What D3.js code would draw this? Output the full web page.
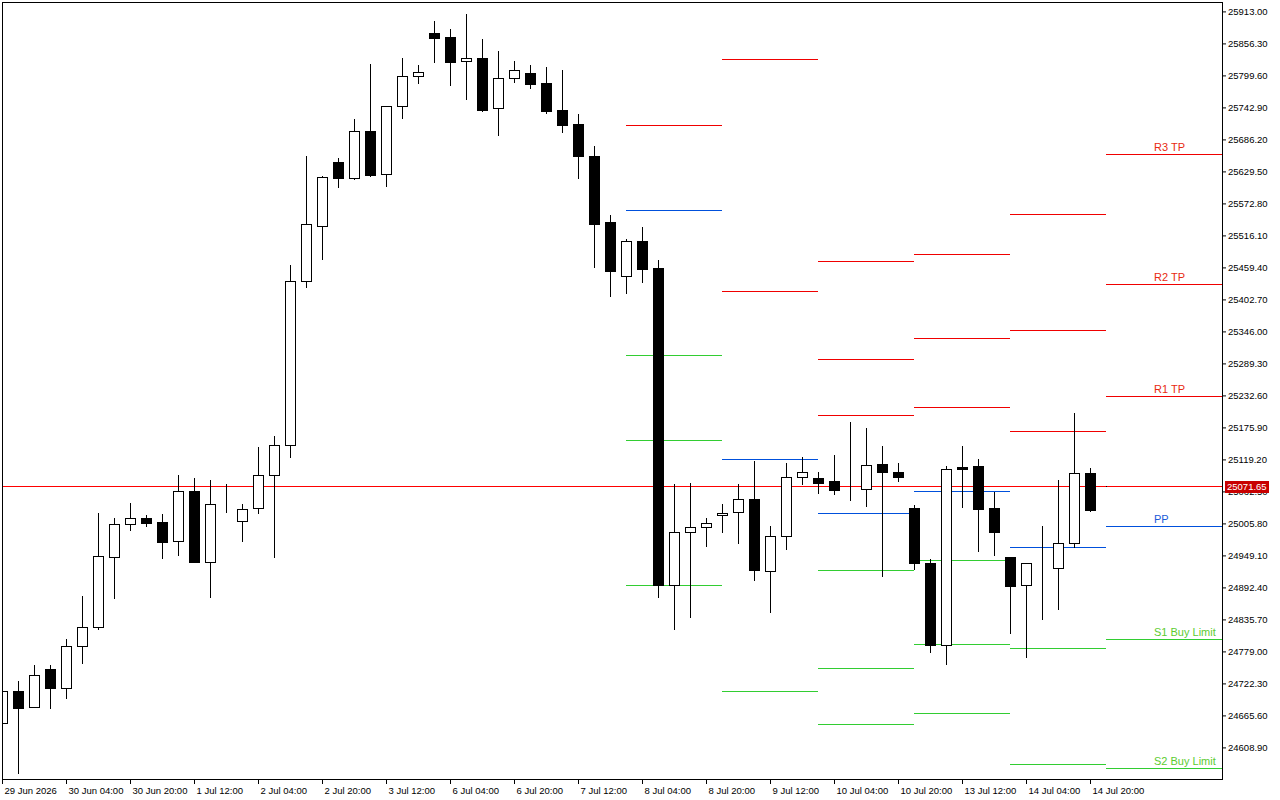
<!DOCTYPE html>
<html>
<head>
<meta charset="utf-8">
<script src="https://cdn.jsdelivr.net/npm/d3@7"></script>
<style>
  body { margin: 0; background: #fff; }
  svg { display: block; font-family: "Liberation Sans", Arial, sans-serif; }
</style>
</head>
<body>
<svg id="chart" width="1280" height="800"></svg>
<script>
// H4 bars, 29 Jun 2026 12:00 -> 15 Jul 2026 00:00
const opens = [24652.6, 24709.3, 24681.0, 24748.3, 24714.7, 24789.1, 24822.7, 24946.8, 25005.2, 25015.9,
  25008.8, 24975.1, 25063.7, 24937.9, 25040.7, 25010.6, 25033.6, 25092.1, 25145.2, 25435.8,
  25533.3, 25646.7, 25618.3, 25701.6, 25625.4, 25745.9, 25799.0, 25875.3, 25868.2, 25825.6,
  25830.9, 25742.3, 25795.5, 25804.4, 25786.7, 25738.8, 25714.0, 25657.3, 25540.3, 25444.7,
  25506.7, 25458.8, 24897.2, 24991.1, 24999.9, 25021.2, 25026.5, 25049.5, 24922.0, 24984.0,
  25088.5, 25086.7, 25081.4, 25065.5, 25067.3, 25111.6, 25097.4, 25033.6, 24936.1, 24790.8,
  25106.2, 25108.0, 25033.6, 24946.8, 24897.2, 24927.3, 24927.3, 24971.6, 25095.6, 25071.65];
const highs = [24712.9, 24727.1, 24755.4, 24755.4, 24801.5, 24877.7, 25024.7, 25015.9, 25042.5, 25021.2,
  25023.0, 25092.1, 25086.7, 25083.2, 25076.1, 25040.7, 25141.7, 25161.2, 25464.2, 25657.3,
  25621.9, 25653.7, 25722.9, 25820.3, 25745.9, 25830.9, 25818.6, 25896.5, 25882.3, 25908.9,
  25864.6, 25843.4, 25825.6, 25818.6, 25815.0, 25809.7, 25731.7, 25675.0, 25552.8, 25510.2,
  25531.5, 25473.0, 25076.1, 25077.9, 25015.9, 25040.7, 25076.1, 25116.9, 25001.7, 25113.3,
  25124.0, 25097.4, 25127.5, 25186.0, 25175.3, 25143.4, 25113.3, 25038.9, 24943.2, 25108.0,
  25143.4, 25120.4, 25061.9, 24946.8, 24936.1, 25001.7, 25083.2, 25201.9, 25104.5, 25071.65];
const lows = [24650.9, 24564.0, 24681.0, 24679.2, 24696.9, 24759.0, 24819.2, 24874.1, 24994.6, 25001.7,
  24945.0, 24950.3, 24937.9, 24875.9, 25026.5, 24975.1, 25024.7, 24946.8, 25124.0, 25425.2,
  25474.8, 25602.4, 25616.5, 25621.9, 25604.1, 25724.6, 25786.7, 25823.9, 25783.1, 25758.3,
  25737.0, 25694.5, 25788.4, 25777.8, 25733.5, 25699.8, 25618.3, 25460.6, 25409.2, 25414.5,
  25434.0, 24875.9, 24819.2, 24840.5, 24966.3, 24991.1, 24971.6, 24906.0, 24849.3, 24960.9,
  25076.1, 25060.2, 25058.4, 25047.8, 25037.1, 24913.1, 25081.4, 24925.5, 24778.4, 24757.2,
  25035.4, 24957.4, 24950.3, 24812.1, 24769.6, 24836.9, 24854.6, 24964.5, 25028.3, 25071.65];
const closes = [24709.3, 24679.2, 24737.7, 24714.7, 24789.1, 24822.7, 24948.5, 25005.2, 25015.9, 25007.0,
  24973.3, 25063.7, 24937.9, 25040.7, 25040.7, 25031.8, 25092.1, 25145.2, 25435.8, 25536.8,
  25620.1, 25618.3, 25701.6, 25623.6, 25745.9, 25799.0, 25806.1, 25866.4, 25823.9, 25830.9,
  25738.8, 25795.5, 25809.7, 25784.9, 25737.0, 25712.2, 25657.3, 25536.8, 25453.5, 25506.7,
  25457.1, 24897.2, 24991.1, 24999.9, 25007.0, 25024.7, 25049.5, 24923.7, 24984.0, 25088.5,
  25097.4, 25077.9, 25065.5, 25065.5, 25109.8, 25097.4, 25088.5, 24936.1, 24790.8, 25102.7,
  25102.7, 25031.8, 24991.1, 24895.4, 24936.1, 24927.3, 24971.6, 25095.6, 25030.0, 25071.65];

// time axis labels, one every 4 bars
const labelBars = [0, 4, 8, 12, 16, 20, 24, 28, 32, 36, 40, 44, 48, 52, 56, 60, 64, 68];
const timeLabels = ["29 Jun 2026", "30 Jun 04:00", "30 Jun 20:00", "1 Jul 12:00", "2 Jul 04:00",
  "2 Jul 20:00", "3 Jul 12:00", "6 Jul 04:00", "6 Jul 20:00", "7 Jul 12:00", "8 Jul 04:00",
  "8 Jul 20:00", "9 Jul 12:00", "10 Jul 04:00", "10 Jul 20:00", "13 Jul 12:00", "14 Jul 04:00",
  "14 Jul 20:00"];

const priceTicks = [25913.00, 25856.30, 25799.60, 25742.90, 25686.20, 25629.50, 25572.80, 25516.10,
  25459.40, 25402.70, 25346.00, 25289.30, 25232.60, 25175.90, 25119.20, 25062.50, 25005.80,
  24949.10, 24892.40, 24835.70, 24779.00, 24722.30, 24665.60, 24608.90];

const bid = 25071.65;

// daily pivots: 8, 9, 10, 13, 14, 15 Jul (first bar of each day)
const dayStart = [39, 45, 51, 57, 63, 69];
const r3 = [26119.7, 26126.9, 25471.3, 25483.7, 25554.5, 25660.8];
const r2 = [25969.1, 25829.2, 25297.6, 25334.8, 25349.0, 25430.5];
const r1 = [25712.2, 25418.1, 25198.4, 25212.6, 25170.0, 25232.0];
const pp = [25561.6, 25120.4, 25024.7, 25063.7, 24964.5, 25001.7];
const s1 = [25304.7, 24709.3, 24923.7, 24941.5, 24785.5, 24801.5];
const s2 = [25154.1, 24411.6, 24750.1, 24792.6, 24580.0, 24572.9];
const s3 = [24897.2, 24000.5, 24650.9, 24670.4, 24401.0, 24371.0];
const levelNames = ["R3 TP", "R2 TP", "R1 TP", "PP", "S1 Buy Limit", "S2 Buy Limit", ""];
const labelBar = 72;

const RED = "#f00000", BLUE = "#0050dc", GREEN = "#32cd32";
const levels = [
  { vals: r3, color: RED, text: "#e82a10" },
  { vals: r2, color: RED, text: "#e82a10" },
  { vals: r1, color: RED, text: "#e82a10" },
  { vals: pp, color: BLUE, text: "#1a5ad8" },
  { vals: s1, color: GREEN, text: "#5ccc30" },
  { vals: s2, color: GREEN, text: "#5ccc30" },
  { vals: s3, color: GREEN, text: "#5ccc30" }
];

const plotL = 2, plotT = 2, plotR = 1222, plotB = 779;

const svg = d3.select("#chart");

const x = d3.scaleLinear().domain([0, 69]).range([2, 1106]);
const y = d3.scaleLinear().domain([24608.9, 25913]).range([747.4, 11.4]);
const py = v => Math.round(y(v));

svg.append("defs").append("clipPath").attr("id", "plot")
  .append("rect")
  .attr("x", plotL + 1).attr("y", plotT + 1)
  .attr("width", plotR - plotL - 1).attr("height", plotB - plotT - 1);

const plot = svg.append("g").attr("clip-path", "url(#plot)");

// pivot segments
levels.forEach((lv, li) => {
  lv.vals.forEach((v, d) => {
    const x1 = x(dayStart[d]);
    const x2 = d + 1 < dayStart.length ? x(dayStart[d + 1]) : plotR;
    plot.append("line")
      .attr("x1", x1).attr("x2", x2)
      .attr("y1", py(v) + 0.5).attr("y2", py(v) + 0.5)
      .attr("stroke", lv.color).attr("stroke-width", 1);
  });
  const last = lv.vals.length - 1;
  if (levelNames[li]) {
    plot.append("text")
      .attr("x", x(labelBar)).attr("y", py(lv.vals[last]) - 3)
      .attr("fill", lv.text)
      .attr("font-size", "11px")
      .text(levelNames[li]);
  }
});

// bid line
plot.append("line")
  .attr("x1", plotL).attr("x2", plotR)
  .attr("y1", py(bid) + 0.5).attr("y2", py(bid) + 0.5)
  .attr("stroke", "#ff0000").attr("stroke-width", 1);

// candles
const bars = d3.range(opens.length);
const candle = plot.selectAll("g.candle").data(bars).enter().append("g");

candle.append("line")
  .attr("x1", i => x(i) + 0.5).attr("x2", i => x(i) + 0.5)
  .attr("y1", i => py(highs[i])).attr("y2", i => py(lows[i]) + 1)
  .attr("stroke", "#000").attr("stroke-width", 1);

candle.append("rect")
  .attr("x", i => x(i) - 4.5)
  .attr("y", i => py(Math.max(opens[i], closes[i])) + 0.5)
  .attr("width", 10)
  .attr("height", i => py(Math.min(opens[i], closes[i])) - py(Math.max(opens[i], closes[i])))
  .attr("fill", i => closes[i] >= opens[i] ? "#fff" : "#000")
  .attr("stroke", "#000").attr("stroke-width", 1);

// frame
svg.append("rect")
  .attr("x", plotL + 0.5).attr("y", plotT + 0.5)
  .attr("width", plotR - plotL).attr("height", plotB - plotT)
  .attr("fill", "none").attr("stroke", "#000");

// price axis
const yAxis = d3.axisRight(y).tickValues(priceTicks)
  .tickFormat(d3.format(".2f")).tickSize(4).tickPadding(2);
const ya = svg.append("g").attr("transform", `translate(${plotR},0)`).call(yAxis);
ya.select(".domain").remove();
ya.selectAll("line").attr("stroke", "#000");
ya.selectAll("text").attr("font-size", "9.5px").attr("fill", "#000")
  .attr("font-family", "Liberation Sans, Arial, sans-serif");

// time axis
const xAxis = d3.axisBottom(x).tickValues(labelBars)
  .tickFormat((d, k) => timeLabels[k]).tickSize(5).tickPadding(3);
const xa = svg.append("g").attr("transform", `translate(0,${plotB})`).call(xAxis);
xa.select(".domain").remove();
xa.selectAll("line").attr("stroke", "#000");
xa.selectAll("text").attr("text-anchor", "start").attr("x", 2)
  .attr("font-size", "9.5px").attr("fill", "#000")
  .attr("font-family", "Liberation Sans, Arial, sans-serif");

// bid label
svg.append("rect")
  .attr("x", 1225).attr("y", py(bid) - 5)
  .attr("width", 44).attr("height", 12)
  .attr("fill", "#c80000");
svg.append("text")
  .attr("x", 1227).attr("y", py(bid) + 0.5).attr("dy", "0.35em")
  .attr("fill", "#fff").attr("font-size", "9.5px")
  .text(d3.format(".2f")(bid));
</script>
</body>
</html>
